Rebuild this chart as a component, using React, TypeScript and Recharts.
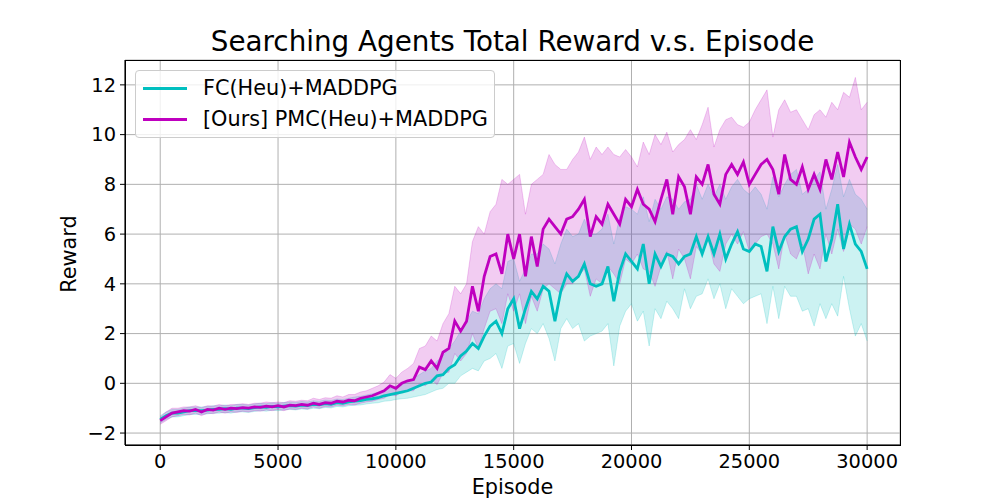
import React from 'react';
import { ComposedChart, Area, Line, XAxis, YAxis, CartesianGrid } from 'recharts';

const EPISODE_STEP = 250;

const pmcMean = [
  -1.5, -1.35, -1.2, -1.15, -1.1, -1.12, -1.05, -1.15, -1.05, -1.08,
  -1.0, -1.05, -1.0, -1.02, -0.98, -1.0, -0.95, -0.97, -0.92, -0.95,
  -0.9, -0.95, -0.88, -0.9, -0.85, -0.88, -0.8, -0.85, -0.78, -0.8,
  -0.72, -0.75, -0.68, -0.7, -0.6, -0.55, -0.5, -0.4, -0.3, -0.1,
  -0.2, 0.0, 0.1, 0.15, 0.65, 0.55, 0.9, 0.6, 1.25, 1.4,
  2.5, 2.1, 2.5, 3.9, 2.9, 4.3, 5.1, 5.2, 4.4, 6.0,
  5.0, 6.0, 4.3, 5.9, 4.7, 6.2, 6.6, 6.3, 6.0, 6.6,
  6.7, 7.0, 7.4, 5.9, 6.7, 6.4, 7.2, 6.8, 6.4, 7.4,
  7.1, 7.8, 7.2, 7.0, 6.5, 7.4, 8.2, 6.8, 8.3, 7.9,
  6.8, 8.3, 8.0, 8.8, 7.6, 7.2, 8.4, 8.8, 8.4, 8.9,
  8.0, 8.4, 8.8, 9.0, 8.6, 7.6, 9.2, 8.2, 8.0, 8.7,
  7.8, 8.4, 7.8, 9.0, 8.2, 9.3, 8.3, 9.7, 9.1, 8.6,
  9.1,
];

const pmcHigh = [
  -1.35, -1.15, -1.0, -1.0, -0.95, -0.95, -0.9, -0.98, -0.9, -0.92,
  -0.85, -0.9, -0.85, -0.85, -0.82, -0.85, -0.8, -0.8, -0.75, -0.78,
  -0.75, -0.78, -0.7, -0.72, -0.68, -0.7, -0.6, -0.65, -0.58, -0.6,
  -0.5, -0.55, -0.45, -0.45, -0.35, -0.3, -0.2, -0.1, 0.05, 0.35,
  0.2, 0.45, 0.6, 0.8, 1.4, 1.5, 1.9, 1.7, 2.4, 2.8,
  3.9, 3.6, 4.0, 5.7, 6.3, 6.0, 6.9, 7.2, 8.2, 8.0,
  8.2, 8.4, 6.8, 8.0, 8.2, 8.4, 9.2, 8.8, 8.6, 8.6,
  9.0, 9.3, 9.9, 9.0, 9.5, 9.2, 9.5, 9.2, 9.1, 9.4,
  9.1, 8.7, 9.7, 9.2, 10.0, 9.6, 10.1, 9.3, 9.6, 9.8,
  10.2, 9.8, 10.4, 11.1, 9.5, 10.2, 10.6, 10.7, 10.4, 10.3,
  10.5, 11.0, 11.4, 11.8, 9.9, 11.0, 11.4, 10.9, 11.0, 10.6,
  10.2, 10.8, 11.0, 10.7, 11.3, 11.0, 11.7, 11.5, 12.3, 11.0,
  11.3,
];

const pmcLow = [
  -1.65, -1.5, -1.35, -1.3, -1.25, -1.27, -1.2, -1.3, -1.2, -1.22,
  -1.15, -1.2, -1.15, -1.17, -1.12, -1.15, -1.1, -1.12, -1.07, -1.1,
  -1.05, -1.1, -1.03, -1.05, -1.0, -1.03, -0.95, -1.0, -0.93, -0.95,
  -0.88, -0.9, -0.85, -0.87, -0.8, -0.75, -0.72, -0.65, -0.6, -0.45,
  -0.5, -0.35, -0.3, -0.3, 0.0, -0.1, 0.15, -0.05, 0.4, 0.45,
  1.2, 0.9, 1.2, 2.0, 1.4, 2.2, 2.9, 3.0, 2.4, 3.6,
  2.9, 3.6, 2.4, 3.5, 2.9, 3.8, 4.0, 3.8, 3.6, 4.0,
  4.0, 4.3, 4.6, 3.5, 4.2, 4.0, 4.7, 4.4, 4.0, 5.0,
  4.8, 5.2, 4.6, 4.5, 3.9, 4.7, 5.3, 4.2, 5.4, 5.0,
  4.2, 5.5, 5.2, 5.8, 4.8, 4.5, 5.6, 6.0, 5.6, 6.1,
  5.3, 5.6, 5.9, 6.0, 5.6, 4.6, 6.0, 5.2, 5.0, 5.6,
  4.4, 5.2, 4.6, 6.0, 5.2, 6.2, 5.3, 6.4, 6.2, 5.6,
  6.3,
];

const fcMean = [
  -1.45, -1.3, -1.2, -1.2, -1.15, -1.1, -1.1, -1.1, -1.08, -1.05,
  -1.05, -1.02, -1.05, -1.0, -1.0, -1.02, -0.98, -0.95, -0.97, -0.93,
  -0.95, -0.92, -0.9, -0.92, -0.88, -0.9, -0.85, -0.87, -0.82, -0.84,
  -0.78, -0.8, -0.75, -0.72, -0.7, -0.65, -0.62, -0.58, -0.5, -0.45,
  -0.4, -0.35, -0.3, -0.2, -0.1, 0.0, 0.05, 0.3, 0.35, 0.6,
  0.75, 1.1, 1.3, 1.6, 1.4, 1.9, 2.3, 2.5, 2.0, 3.0,
  3.4, 2.2, 3.0, 3.7, 3.4, 3.9, 3.7, 2.5, 3.7, 4.4,
  4.1, 4.3, 4.8, 4.0, 3.9, 4.0, 4.7, 3.3, 4.5, 5.2,
  4.9, 4.6, 5.6, 4.0, 5.2, 4.7, 5.2, 5.1, 4.8, 5.1,
  5.2, 5.9, 5.2, 5.9, 5.2, 6.0, 5.0, 5.6, 6.1, 5.4,
  5.3, 5.6, 5.5, 4.5, 6.3, 5.3, 5.9, 6.2, 6.3, 5.3,
  5.8, 6.6, 6.8, 4.9, 5.8, 7.2, 5.4, 6.4, 5.6, 5.3,
  4.6,
];

const fcHigh = [
  -1.3, -1.15, -1.05, -1.05, -1.0, -0.95, -0.95, -0.95, -0.93, -0.9,
  -0.9, -0.87, -0.9, -0.85, -0.85, -0.87, -0.83, -0.8, -0.82, -0.78,
  -0.8, -0.77, -0.75, -0.77, -0.73, -0.75, -0.7, -0.72, -0.67, -0.69,
  -0.63, -0.65, -0.6, -0.55, -0.52, -0.47, -0.42, -0.36, -0.28, -0.2,
  -0.15, -0.05, 0.05, 0.2, 0.35, 0.5, 0.6, 0.9, 1.1, 1.4,
  1.7, 2.1, 2.5, 2.9, 2.8, 3.4, 3.8, 4.0, 3.8, 4.9,
  5.0, 4.1, 4.6, 5.2, 5.2, 5.6, 5.4, 4.8, 5.6, 6.2,
  5.9, 6.0, 6.6, 6.0, 6.0, 6.2, 6.8, 5.6, 6.7, 7.1,
  7.0, 6.8, 7.5, 6.5, 7.4, 7.0, 7.5, 7.4, 7.0, 7.3,
  7.4, 8.0, 7.4, 8.0, 7.5, 8.0, 7.4, 7.9, 8.2, 7.8,
  7.6, 7.9, 7.6, 7.0, 8.3, 7.5, 8.0, 8.4, 8.6, 7.6,
  7.8, 8.2, 8.5, 7.0, 7.8, 8.8, 7.5, 8.2, 7.6, 7.4,
  7.0,
];

const fcLow = [
  -1.6, -1.45, -1.35, -1.35, -1.3, -1.25, -1.25, -1.25, -1.23, -1.2,
  -1.2, -1.17, -1.2, -1.15, -1.15, -1.17, -1.13, -1.1, -1.12, -1.08,
  -1.1, -1.07, -1.05, -1.07, -1.03, -1.05, -1.0, -1.02, -0.97, -0.99,
  -0.93, -0.95, -0.9, -0.88, -0.87, -0.83, -0.8, -0.78, -0.72, -0.7,
  -0.65, -0.62, -0.6, -0.55, -0.5, -0.45, -0.35, -0.25, -0.2, 0.0,
  0.0, 0.3, 0.45, 0.6, 0.5, 0.9, 1.0, 1.2, 0.6, 1.5,
  1.6, 0.8, 1.6, 2.2, 2.0, 2.4, 1.8, 0.9, 2.2, 2.6,
  2.2, 2.4, 1.7, 1.9, 2.0, 2.1, 2.4, 0.7, 2.3, 2.9,
  3.2, 2.5, 2.9, 1.5, 3.0, 2.6, 3.3, 3.0, 2.6, 3.8,
  3.0, 3.5, 3.6, 4.2, 3.4, 4.0, 3.0, 3.8, 3.5, 3.2,
  3.4, 3.5, 3.6, 2.4, 3.9, 2.6, 3.9, 3.5, 3.5, 2.9,
  3.0, 2.3, 3.2, 2.6, 3.2, 2.7, 4.3, 3.0, 1.9, 2.4,
  1.7,
];

const xTicks = [0, 5000, 10000, 15000, 20000, 25000, 30000];
const yTicks = [-2, 0, 2, 4, 6, 8, 10, 12];
const xDomain = [-1495, 31395];
const yDomain = [-2.48, 13.0];

const seriesNames = ['FC(Heu)+MADDPG', '[Ours] PMC(Heu)+MADDPG'];
const FC_COLOR = '#00bfbf';
const PMC_COLOR = '#bf00bf';

const FONT = '"DejaVu Sans", sans-serif';
const TICK_FS = 19.4;
const LABEL_FS = 20.8;
const TITLE_FS = 27.8;

const fmtY = (v: number) => (v < 0 ? '\u2212' + Math.abs(v) : String(v));

export default function App() {
  const data = fcMean.map((v, i) => ({
    ep: i * EPISODE_STEP,
    fc: v,
    pmc: pmcMean[i],
    fcBand: [fcLow[i], fcHigh[i]],
    pmcBand: [pmcLow[i], pmcHigh[i]],
  }));

  const tickStyle = { fill: '#000', fontSize: TICK_FS, fontFamily: FONT };

  return (
    <div style={{ position: 'absolute', left: 0, top: 0, width: 1000, height: 500, background: '#fff', fontFamily: FONT }}>
      <ComposedChart width={1000} height={500} data={data} margin={{ top: 60, right: 100, bottom: 0, left: 0 }}>
        <CartesianGrid stroke="#b0b0b0" strokeWidth={1} />
        <XAxis
          dataKey="ep"
          type="number"
          domain={xDomain}
          ticks={xTicks}
          allowDataOverflow
          height={55}
          tick={tickStyle}
          tickSize={5}
          tickMargin={4}
          tickLine={{ stroke: '#000' }}
          axisLine={{ stroke: '#000' }}
        />
        <YAxis
          type="number"
          domain={yDomain}
          ticks={yTicks}
          allowDataOverflow
          width={125}
          tick={tickStyle}
          tickFormatter={fmtY}
          tickSize={5}
          tickMargin={4}
          tickLine={{ stroke: '#000' }}
          axisLine={{ stroke: '#000' }}
        />
        <Area
          type="linear"
          dataKey="fcBand"
          fill={FC_COLOR}
          fillOpacity={0.2}
          stroke={FC_COLOR}
          strokeOpacity={0.2}
          strokeWidth={1}
          dot={false}
          activeDot={false}
          isAnimationActive={false}
        />
        <Line
          type="linear"
          dataKey="fc"
          stroke={FC_COLOR}
          strokeWidth={2.8}
          dot={false}
          activeDot={false}
          isAnimationActive={false}
        />
        <Area
          type="linear"
          dataKey="pmcBand"
          fill={PMC_COLOR}
          fillOpacity={0.2}
          stroke={PMC_COLOR}
          strokeOpacity={0.2}
          strokeWidth={1}
          dot={false}
          activeDot={false}
          isAnimationActive={false}
        />
        <Line
          type="linear"
          dataKey="pmc"
          stroke={PMC_COLOR}
          strokeWidth={2.8}
          dot={false}
          activeDot={false}
          isAnimationActive={false}
        />
      </ComposedChart>

      <div style={{ position: 'absolute', left: 125, top: 60, width: 776, height: 386, border: '1px solid #000', boxSizing: 'border-box', pointerEvents: 'none' }} />

      <div style={{ position: 'absolute', left: 125, width: 775, top: 25, textAlign: 'center', fontSize: TITLE_FS, lineHeight: '34px', color: '#000', whiteSpace: 'nowrap' }}>
        Searching Agents Total Reward v.s. Episode
      </div>
      <div style={{ position: 'absolute', left: 512.5, top: 487, transform: 'translate(-50%, -50%)', fontSize: LABEL_FS, whiteSpace: 'nowrap', color: '#000' }}>
        Episode
      </div>
      <div style={{ position: 'absolute', left: 69, top: 254, transform: 'translate(-50%, -50%) rotate(-90deg)', fontSize: LABEL_FS, whiteSpace: 'nowrap', color: '#000' }}>
        Reward
      </div>

      <div style={{ position: 'absolute', left: 135, top: 70, width: 360, height: 68, border: '1px solid #cccccc', borderRadius: 4, background: 'rgba(255,255,255,0.8)', boxSizing: 'border-box' }}>
        {seriesNames.map((name, i) => (
          <div key={name} style={{ position: 'absolute', left: 7, top: 17 + i * 31, width: 340, height: 0 }}>
            <div style={{ position: 'absolute', left: 0, top: -1.5, width: 44, height: 3, background: i === 0 ? FC_COLOR : PMC_COLOR }} />
            <span style={{ position: 'absolute', left: 60, top: -13, lineHeight: '26px', fontSize: LABEL_FS, color: '#000', whiteSpace: 'nowrap' }}>{name}</span>
          </div>
        ))}
      </div>
    </div>
  );
}
